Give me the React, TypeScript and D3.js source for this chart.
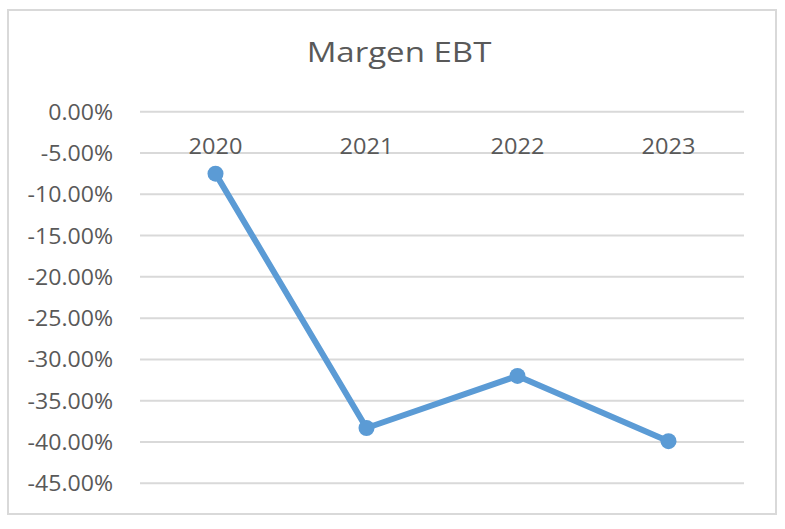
import * as d3 from "d3";

const title = "Margen EBT";
const years = ["2020", "2021", "2022", "2023"];
const margins = [-0.075, -0.383, -0.32, -0.399];
const yTicks = [0, -0.05, -0.1, -0.15, -0.2, -0.25, -0.3, -0.35, -0.4, -0.45];

const W = 785;
const H = 529;
const FONT = "'Open Sans', 'Noto Sans', sans-serif";
const TEXT = "#595959";
const GRID = "#d9d9d9";
const LINE = "#5b9bd5";

const App = () => {
  const x = d3.scaleBand<string>().domain(years).range([140, 744]);
  const y = d3.scaleLinear().domain([-0.45, 0]).range([483.3, 111.7]);
  const fmt = (v: number) => (v === 0 ? "0.00%" : d3.format(".2%")(v).replace("−", "-"));

  const pts: [number, number][] = years.map((yr, i) => [
    (x(yr) ?? 0) + x.bandwidth() / 2,
    y(margins[i]),
  ]);
  const line = d3.line();

  return (
    <svg
      width={W}
      height={H}
      style={{ position: "absolute", left: 0, top: 0, background: "#fff" }}
      fontFamily={FONT}
    >
      {/* chart frame */}
      <rect x={8} y={10} width={768} height={504} fill="#fff" stroke={GRID} strokeWidth={2} />

      {/* title text in the picture is stretched sideways, hence the scale */}
      <g transform="translate(399, 62) scale(1.18, 1)">
        <text textAnchor="middle" fontSize={28} fill={TEXT}>
          {title}
        </text>
      </g>

      {/* gridlines + y labels */}
      {yTicks.map((t) => (
        <g key={t}>
          <line x1={140} x2={744} y1={y(t)} y2={y(t)} stroke={GRID} strokeWidth={2} />
          <g transform={`translate(113, ${y(t) + 8}) scale(1.05, 1)`}>
            <text textAnchor="end" fontSize={22} fill={TEXT}>
              {fmt(t)}
            </text>
          </g>
        </g>
      ))}

      {/* category labels sit under the zero axis */}
      {years.map((yr) => (
        <g key={yr} transform={`translate(${(x(yr) ?? 0) + x.bandwidth() / 2}, ${y(0) + 42.5}) scale(1.07, 1)`}>
          <text textAnchor="middle" fontSize={22} fill={TEXT}>
            {yr}
          </text>
        </g>
      ))}

      <path d={line(pts) ?? ""} fill="none" stroke={LINE} strokeWidth={6} strokeLinejoin="round" />
      {pts.map((p, i) => (
        <circle key={i} cx={p[0]} cy={p[1]} r={8} fill={LINE} />
      ))}
    </svg>
  );
};

export default App;
